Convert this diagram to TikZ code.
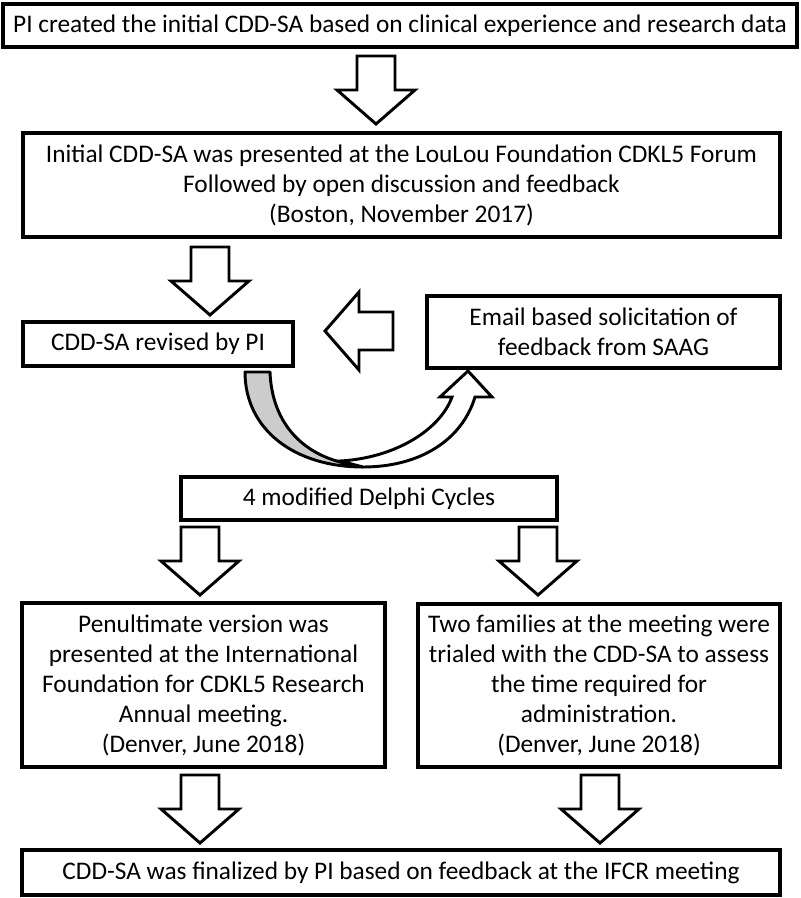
\documentclass[tikz,border=0pt]{standalone}
\usepackage{fontspec}
\setmainfont{Carlito}
\usetikzlibrary{positioning}
\definecolor{curvegray}{RGB}{204,204,204}

\begin{document}
\begin{tikzpicture}[x=0.75pt, y=-0.75pt,
    stepbox/.style={draw, line width=3pt, align=center, inner sep=0pt,
      font=\fontsize{19}{22.5}\selectfont},
    arrowline/.style={draw, fill=white, line width=2.2pt, line join=miter},
    pics/blockarrow/.style={code={
      \draw[arrowline] (-19,0) -- (19,0) -- (19,34) -- (39,34) -- (0,68)
        -- (-39,34) -- (-19,34) -- cycle;}}]
        \useasboundingbox (0,0) rectangle (800,898);

        % boxes
        \node[stepbox, minimum width=794*0.75pt, minimum height=43*0.75pt] (init) at (400,25.5)
          {PI created the initial CDD-SA based on clinical experience and research data};
        \node[stepbox, minimum width=757*0.75pt, minimum height=104*0.75pt] (forum) at (401.5,185)
          {Initial CDD-SA was presented at the LouLou Foundation CDKL5 Forum\\
           Followed by open discussion and feedback\\(Boston, November 2017)};
        \node[stepbox, minimum width=270*0.75pt, minimum height=44*0.75pt] (revised) at (158,344)
          {CDD-SA revised by PI};
        \node[stepbox, minimum width=353*0.75pt, minimum height=72*0.75pt] (email) at (603.5,332)
          {Email based solicitation of\\feedback from SAAG};
        \node[stepbox, minimum width=376*0.75pt, minimum height=43*0.75pt] (delphi) at (369,498.5)
          {4 modified Delphi Cycles};
        \node[stepbox, minimum width=363*0.75pt, minimum height=164*0.75pt] (penult) at (203.5,685)
          {Penultimate version was\\presented at the International\\Foundation for CDKL5 Research\\
           Annual meeting.\\(Denver, June 2018)};
        \node[stepbox, minimum width=362*0.75pt, minimum height=163*0.75pt] (trial) at (599,685.5)
          {Two families at the meeting were\\trialed with the CDD-SA to assess\\the time required for\\
           administration.\\(Denver, June 2018)};
        \node[stepbox, minimum width=758*0.75pt, minimum height=45*0.75pt] (final) at (401,872.5)
          {CDD-SA was finalized by PI based on feedback at the IFCR meeting};

        % block arrows
        \pic at (376,56) {blockarrow};
        \pic at (210,247) {blockarrow};
        \pic[rotate=-90] at (393,331) {blockarrow};
        \pic at (200,527) {blockarrow};
        \pic at (538,527) {blockarrow};
        \pic at (200,775) {blockarrow};
        \pic at (600,775) {blockarrow};

        % curved arrow from revised to email
        \filldraw[fill=curvegray, line width=2.2pt, line join=round]
          (245,372) .. controls (245,430) and (295,467) .. (363,467)
          -- (355,465) .. controls (305,458) and (272,425) .. (270,372) -- cycle;
        \filldraw[fill=white, line width=2.2pt, line join=miter]
          (340,461) .. controls (395,458) and (440,430) .. (452,397)
          -- (440,397) -- (468,371) -- (492,397) -- (475,397)
          .. controls (462,440) and (420,467) .. (363,467) -- cycle;
\end{tikzpicture}
\end{document}
